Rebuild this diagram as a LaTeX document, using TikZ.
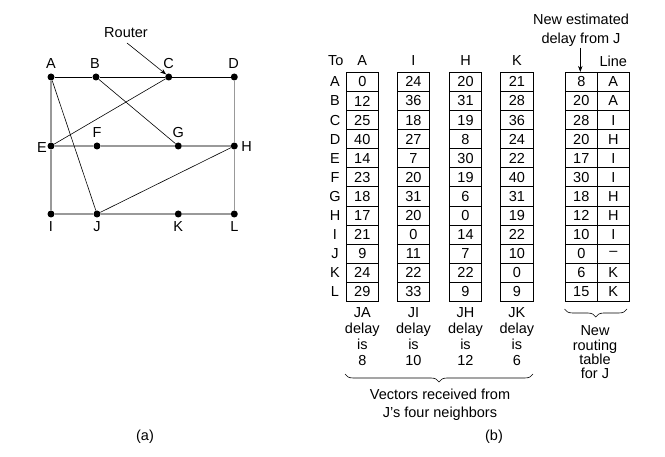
\documentclass[tikz,border=0pt]{standalone}
\usepackage{fontspec}
\setmainfont{Liberation Sans}
\usetikzlibrary{decorations.pathreplacing,arrows.meta}
\begin{document}
\begin{tikzpicture}[x=1pt,y=-1pt,
  font=\fontsize{14.5}{16}\selectfont,
  dot/.style={circle,fill=black,inner sep=0pt,minimum size=7pt},
  lbl/.style={inner sep=0pt},
  grayedge/.style={draw=black!40,line width=1.3pt},
  blackedge/.style={draw=black,line width=0.9pt},
  thinedge/.style={draw=black,line width=0.6pt},
  cell/.style={draw=black,line width=0.8pt,minimum width=32.5pt,minimum height=19.1pt,inner sep=0pt},
  txt/.style={inner sep=0pt,align=center,anchor=base},
  brace/.style={decorate,decoration={brace,mirror,amplitude=8pt},line width=0.6pt},
  arr/.style={-{Stealth[length=6pt,width=4.5pt]},line width=0.6pt}]
\useasboundingbox (0,0) rectangle (665,457);

% ---------- (a) network ----------
\node[dot] (A) at (51,77) {};
\node[dot] (B) at (96,77) {};
\node[dot] (C) at (168.7,77) {};
\node[dot] (D) at (234.3,77) {};
\node[dot] (E) at (51,146) {};
\node[dot] (F) at (97,146) {};
\node[dot] (G) at (178.3,146) {};
\node[dot] (H) at (234.3,146) {};
\node[dot] (I) at (51,214) {};
\node[dot] (J) at (97,214) {};
\node[dot] (K) at (178.3,214) {};
\node[dot] (L) at (234.3,214) {};

\draw[grayedge] (A) -- (E) -- (I);
\draw[grayedge] (D) -- (H) -- (L);
\draw[grayedge] (E) -- (F) -- (G) -- (H);
\draw[grayedge] (I) -- (J) -- (K) -- (L);
\draw[blackedge] (A) -- (B) -- (C) -- (D);
\draw[thinedge] (A) -- (J);
\draw[thinedge] (B) -- (G);
\draw[thinedge] (C) -- (E);
\draw[thinedge] (J) -- (H);

\node[lbl] (lA) at (51,64) {A};
\node[lbl] (lB) at (95,64) {B};
\node[lbl] (lC) at (168.5,64) {C};
\node[lbl] (lD) at (233.5,64) {D};
\node[lbl] (lE) at (42,147.5) {E};
\node[lbl] (lF) at (97,133) {F};
\node[lbl] (lG) at (178.3,133) {G};
\node[lbl] (lH) at (246.5,147) {H};
\node[lbl] (lI) at (51,226.5) {I};
\node[lbl] (lJ) at (97,226.5) {J};
\node[lbl] (lK) at (178.3,226.5) {K};
\node[lbl] (lL) at (234.3,226.5) {L};

\node[lbl] (router) at (126,33) {Router};
\coordinate (rs) at (127,43);
\draw[arr] (rs) -- (C.north west);

\node[lbl] (capa) at (145,437) {(a)};

% ---------- (b) tables ----------
\node[lbl] (to) at (335.7,61) {To};
\foreach \l [count=\i] in {A,B,C,D,E,F,G,H,I,J,K,L}
  \node[lbl] (row\i) at (335,{81.85+19.1*(\i-1)}) {\l};

\foreach \col/\x/\vals in {
   A/362.3/{0,12,25,40,14,23,18,17,21,9,24,29},
   I/413.5/{24,36,18,27,7,20,31,20,0,11,22,33},
   H/465.5/{20,31,19,8,30,19,6,0,14,7,22,9},
   K/516.9/{21,28,36,24,22,40,31,19,22,10,0,9}} {
  \node[lbl] (h\col) at (\x,61) {\col};
  \foreach \v [count=\i] in \vals
    \node[cell] (c\col\i) at (\x,{81.85+19.1*(\i-1)}) {\v};
}

\foreach \d/\ln [count=\i] in {8/A,20/A,28/I,20/H,17/I,30/I,18/H,12/H,10/I,0/--,6/K,15/K} {
  \node[cell] (nd\i) at (581.3,{81.85+19.1*(\i-1)}) {\d};
  \node[cell] (nl\i) at (613.3,{81.85+19.1*(\i-1)}) {\ln};
}

\node[lbl] (line) at (613.3,61) {Line};
\node[txt,font=\fontsize{14.5}{18.7}\selectfont] (newest) at (581,43.5) {New estimated\\delay from J};
\coordinate (ns) at (580.3,48);
\draw[arr] (ns) -- (nd1.north -| ns);

\node[txt] (tA) at (362.3,365.3) {JA\\delay\\is\\8};
\node[txt] (tI) at (413.5,365.3) {JI\\delay\\is\\10};
\node[txt] (tH) at (465.5,365.3) {JH\\delay\\is\\12};
\node[txt] (tK) at (516.9,365.3) {JK\\delay\\is\\6};

\coordinate (b1l) at (345,374);
\coordinate (b1r) at (533,374);
\draw[brace] (b1l) -- (b1r);
\node[txt,font=\fontsize{14.5}{18.4}\selectfont] (vec) at (440,418) {Vectors received from\\J's four neighbors};

\coordinate (b2l) at (564.5,309);
\coordinate (b2r) at (627,309);
\draw[brace] (b2l) -- (b2r);
\node[txt,font=\fontsize{14.5}{14.3}\selectfont] (newrt) at (595,378.7) {New\\routing\\table\\for J};

\node[lbl] (capb) at (494,437) {(b)};
\end{tikzpicture}
\end{document}
